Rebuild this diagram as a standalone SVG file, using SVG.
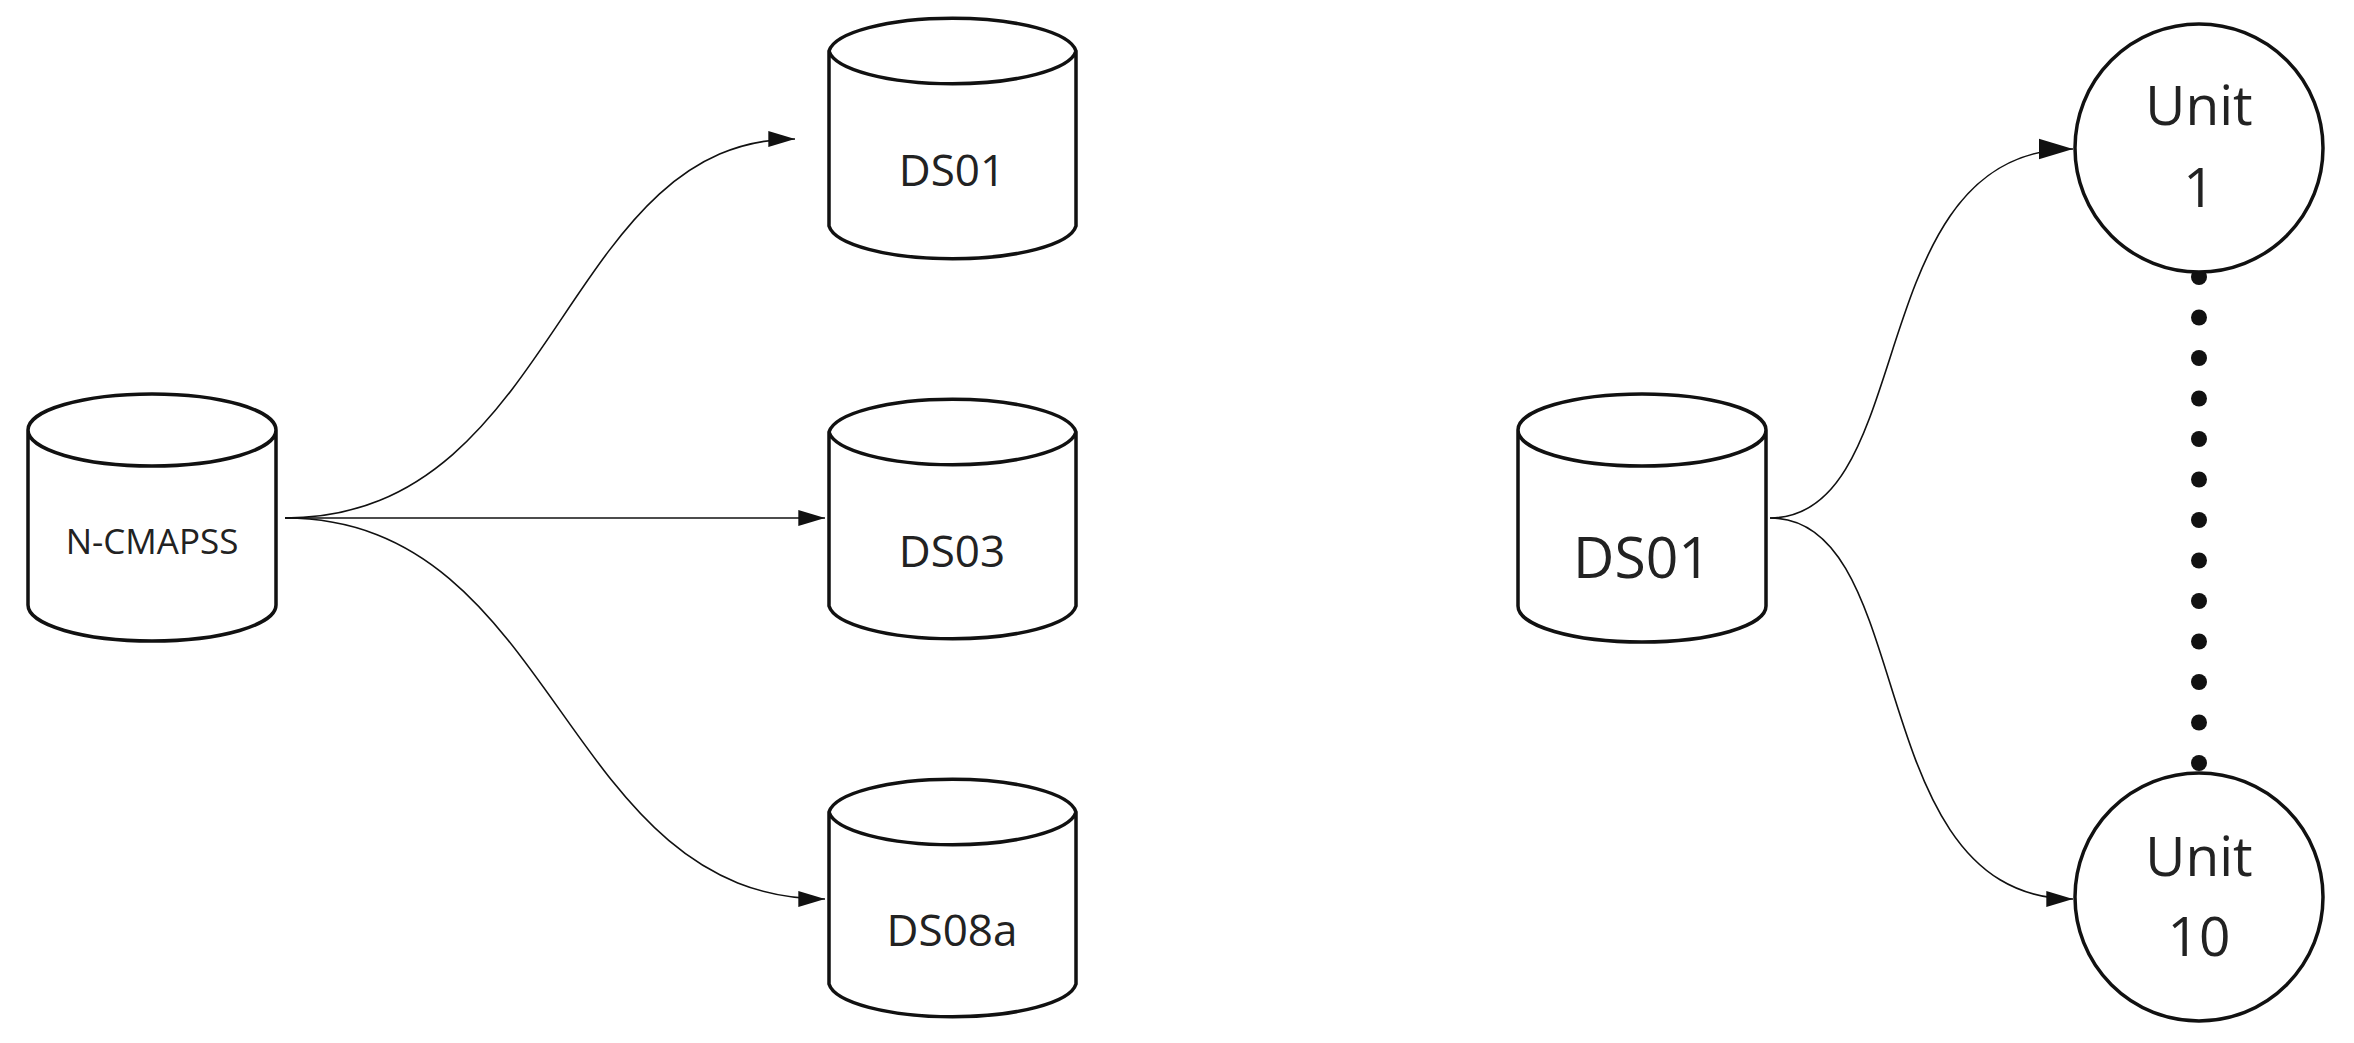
<svg xmlns="http://www.w3.org/2000/svg" width="2354" height="1043" viewBox="0 0 2354 1043">
<defs>
<style>
.shape{fill:#fff;stroke:#111;stroke-width:3.5}
.edge{fill:none;stroke:#111;stroke-width:1.6}
.t{font-family:"Open Sans","Noto Sans",sans-serif;fill:#222;text-anchor:middle;dominant-baseline:central}
</style>
<marker id="ah" viewBox="0 0 20 12" refX="20" refY="6" markerWidth="20" markerHeight="12" markerUnits="userSpaceOnUse" orient="auto"><path d="M0,0 L20,6 L0,12 Z" fill="#111"/></marker>
<marker id="ahb" viewBox="0 0 20 12" refX="20" refY="6" markerWidth="34" markerHeight="24" markerUnits="userSpaceOnUse" orient="auto"><path d="M0,0 L20,6 L0,12 Z" fill="#111"/></marker>
<marker id="ahm" viewBox="0 0 20 12" refX="20" refY="6" markerWidth="30" markerHeight="16" markerUnits="userSpaceOnUse" orient="auto"><path d="M0,0 L20,6 L0,12 Z" fill="#111"/></marker>
</defs>
<rect width="2354" height="1043" fill="#fff"/>
<g id="connectors">
<path class="edge" d="M285,518 C560,518 560,139 795,139" marker-end="url(#ahm)"/>
<path class="edge" d="M285,518 L825,518" marker-end="url(#ahm)"/>
<path class="edge" d="M285,518 C560,518 560,899 825,899" marker-end="url(#ahm)"/>
<path class="edge" d="M1770,518 C1920,518 1860,149 2073,149" marker-end="url(#ahb)"/>
<path class="edge" d="M1770,518 C1920,518 1860,899 2073,899" marker-end="url(#ahm)"/>
<g fill="#111">
<circle cx="2199" cy="277" r="8"/><circle cx="2199" cy="317.5" r="8"/><circle cx="2199" cy="358" r="8"/><circle cx="2199" cy="398.5" r="8"/><circle cx="2199" cy="439" r="8"/><circle cx="2199" cy="479.5" r="8"/><circle cx="2199" cy="520" r="8"/><circle cx="2199" cy="560.5" r="8"/><circle cx="2199" cy="601" r="8"/><circle cx="2199" cy="641.5" r="8"/><circle cx="2199" cy="682" r="8"/><circle cx="2199" cy="722.5" r="8"/><circle cx="2199" cy="763" r="8"/>
</g>
</g>
<g id="ncmapss">
<path class="shape" d="M28,430 A124,36 0 0 1 276,430 L276,605 A124,36 0 0 1 28,605 Z M28,430 A124,36 0 0 0 276,430"/>
<text class="t" x="152" y="540" font-size="35">N-CMAPSS</text>
</g>
<g id="ds01">
<path class="shape" d="M829,51 A124,36 0 0 1 1076,51 L1076,226 A124,36 0 0 1 829,226 Z M829,51 A124,36 0 0 0 1076,51"/>
<text class="t" x="952" y="169" font-size="44">DS01</text>
</g>
<g id="ds03">
<path class="shape" d="M829,432 A124,36 0 0 1 1076,432 L1076,606 A124,36 0 0 1 829,606 Z M829,432 A124,36 0 0 0 1076,432"/>
<text class="t" x="952" y="550" font-size="44">DS03</text>
</g>
<g id="ds08a">
<path class="shape" d="M829,812 A124,36 0 0 1 1076,812 L1076,984 A124,36 0 0 1 829,984 Z M829,812 A124,36 0 0 0 1076,812"/>
<text class="t" x="952" y="929" font-size="44">DS08a</text>
</g>
<g id="ds01b">
<path class="shape" d="M1518,430 A124,36 0 0 1 1766,430 L1766,606 A124,36 0 0 1 1518,606 Z M1518,430 A124,36 0 0 0 1766,430"/>
<text class="t" x="1642" y="556" font-size="57">DS01</text>
</g>
<g id="unit1">
<circle class="shape" cx="2199" cy="148" r="124"/>
<text class="t" x="2199" y="103" font-size="55">Unit</text>
<text class="t" x="2199" y="185" font-size="55">1</text>
</g>
<g id="unit10">
<circle class="shape" cx="2199" cy="897" r="124"/>
<text class="t" x="2199" y="854" font-size="55">Unit</text>
<text class="t" x="2199" y="934" font-size="55">10</text>
</g>
</svg>
